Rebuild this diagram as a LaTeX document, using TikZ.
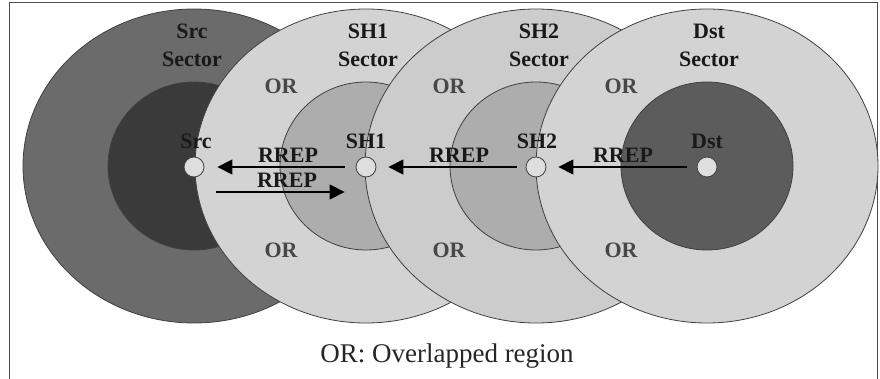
\documentclass[tikz,border=0pt]{standalone}
\usepackage{fontspec}
\setmainfont{Liberation Serif}
\usetikzlibrary{arrows.meta}

\definecolor{srcouter}{HTML}{6B6B6B}
\definecolor{srcinner}{HTML}{3A3A3A}
\definecolor{hopouter}{HTML}{D3D3D3}
\definecolor{hopouterb}{HTML}{CCCCCC}
\definecolor{hopinner}{HTML}{ADADAD}
\definecolor{dstinner}{HTML}{5C5C5C}
\definecolor{hostfill}{HTML}{DEDEDE}

\begin{document}
\begin{tikzpicture}[x=1pt,y=-1pt,
  ring/.style={draw=black!75, line width=0.8pt},
  hostnode/.style={circle, draw=black!75, fill=hostfill, minimum size=20pt,
    inner sep=0pt, line width=0.8pt},
  boldlabel/.style={font=\fontsize{22}{24}\selectfont\bfseries, inner sep=0pt,
    anchor=base, text=black!90},
  orlabel/.style={boldlabel, text=black!72},
  rrep/.style={-{Triangle[length=15pt,width=15pt]}, line width=1.3pt},
]
\useasboundingbox (0,0) rectangle (880,379);

% frame
\draw[line width=0.8pt, black!70] (9,385) -- (9,2) -- (877,2) -- (877,385);

% sectors, drawn left to right so each covers the previous one
\filldraw[ring, fill=srcouter]  (194,166) ellipse [x radius=171pt, y radius=157pt];
\filldraw[ring, fill=srcinner]  (194,166) ellipse [x radius=86pt, y radius=84pt];
\filldraw[ring, fill=hopouter]  (366,166) ellipse [x radius=171pt, y radius=157pt];
\filldraw[ring, fill=hopinner]  (366,166) ellipse [x radius=86pt, y radius=84pt];
\filldraw[ring, fill=hopouterb] (536,166) ellipse [x radius=171pt, y radius=157pt];
\filldraw[ring, fill=hopinner]  (536,166) ellipse [x radius=86pt, y radius=84pt];
\filldraw[ring, fill=hopouter]  (707,166) ellipse [x radius=171pt, y radius=157pt];
\filldraw[ring, fill=dstinner]  (707,166) ellipse [x radius=86pt, y radius=84pt];

% sector titles
\node[boldlabel] (srcsec1) at (192,39) {Src};
\node[boldlabel] (srcsec2) at (192,67) {Sector};
\node[boldlabel] (sh1sec1) at (368,39) {SH1};
\node[boldlabel] (sh1sec2) at (368,67) {Sector};
\node[boldlabel] (sh2sec1) at (539,39) {SH2};
\node[boldlabel] (sh2sec2) at (539,67) {Sector};
\node[boldlabel] (dstsec1) at (709,39) {Dst};
\node[boldlabel] (dstsec2) at (709,67) {Sector};

% overlapped regions
\node[orlabel] (or1a) at (281,94)  {OR};
\node[orlabel] (or1b) at (281,258) {OR};
\node[orlabel] (or2a) at (449,94)  {OR};
\node[orlabel] (or2b) at (449,258) {OR};
\node[orlabel] (or3a) at (621,94)  {OR};
\node[orlabel] (or3b) at (621,258) {OR};

% hosts
\node[hostnode] (src) at (194,167) {};
\node[hostnode] (sh1) at (366,167) {};
\node[hostnode] (sh2) at (536,167) {};
\node[hostnode] (dst) at (707,167) {};

\node[boldlabel] (srclbl) at (196,149) {Src};
\node[boldlabel] (sh1lbl) at (366,149) {SH1};
\node[boldlabel] (sh2lbl) at (537,149) {SH2};
\node[boldlabel] (dstlbl) at (707,149) {Dst};

% route replies
\draw[rrep] ([xshift=-11pt]sh1.west) -- ([xshift=13pt]src.east);
\draw[rrep] ([xshift=12pt,yshift=-25pt]src.east) -- ([xshift=-11pt,yshift=-25pt]sh1.west);
\draw[rrep] ([xshift=-9pt]sh2.west) -- ([xshift=12pt]sh1.east);
\draw[rrep] ([xshift=-10pt]dst.west) -- ([xshift=12pt]sh2.east);

\node[boldlabel] (rrep1) at (288,163) {RREP};
\node[boldlabel] (rrep2) at (287,188) {RREP};
\node[boldlabel] (rrep3) at (459,163) {RREP};
\node[boldlabel] (rrep4) at (623,163) {RREP};

% legend
\node[font=\fontsize{27}{30}\selectfont, inner sep=0pt, anchor=base, text=black!85]
  (legend) at (447,362) {OR: Overlapped region};
\end{tikzpicture}
\end{document}
